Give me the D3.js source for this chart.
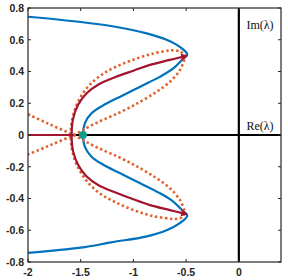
<!DOCTYPE html>
<html><head><meta charset="utf-8">
<script src="https://cdn.jsdelivr.net/npm/d3@7"></script>
<style>body{margin:0;background:#fff}svg{display:block}</style>
</head><body>
<svg id="c" width="288" height="280"></svg>
<script>
const xTicks = [-2, -1.5, -1, -0.5, 0];
const xTickLabels = ["-2", "-1.5", "-1", "-0.5", "0"];
const yTicks = [0.8, 0.6, 0.4, 0.2, 0, -0.2, -0.4, -0.6, -0.8];
const yTickLabels = ["0.8", "0.6", "0.4", "0.2", "0", "-0.2", "-0.4", "-0.6", "-0.8"];

// blue locus (Re, Im), Im decreasing along the path
const blueCurve = [[-2,0.745],[-1.5,0.712],[-1.2,0.685],[-0.883,0.642],[-0.686,0.6],[-0.56,0.555],[-0.49,0.508],
  [-0.543,0.471],[-0.622,0.419],[-0.75,0.366],[-0.94,0.303],[-1.13,0.24],[-1.289,0.186],[-1.4,0.135],[-1.462,0.072],[-1.478,0],
  [-1.462,-0.072],[-1.4,-0.135],[-1.289,-0.186],[-1.13,-0.24],[-0.94,-0.303],[-0.75,-0.366],[-0.622,-0.419],[-0.543,-0.471],[-0.49,-0.508],
  [-0.56,-0.555],[-0.686,-0.6],[-0.883,-0.64],[-1.2,-0.675],[-1.5,-0.71],[-2,-0.743]];
// red locus
const redReal = [[-2,0],[-1.586,0]];
const redBranch = [[-0.508,-0.497],[-0.654,-0.473],[-0.85,-0.44],[-1.0,-0.405],[-1.17,-0.362],[-1.327,-0.318],[-1.446,-0.26],[-1.525,-0.188],[-1.573,-0.1],[-1.586,0],
  [-1.573,0.1],[-1.525,0.19],[-1.446,0.262],[-1.327,0.32],[-1.17,0.365],[-1.0,0.405],[-0.85,0.44],[-0.654,0.473],[-0.508,0.497]];
// orange dotted locus, in five pieces
const dottedA = [[-2,0.131],[-1.81,0.072],[-1.568,0],[-1.365,-0.072],[-1.13,-0.142],[-0.94,-0.208],[-0.781,-0.272],[-0.654,-0.335],[-0.559,-0.409],[-0.511,-0.483]];
const dottedB = [[-0.511,-0.483],[-0.545,-0.52],[-0.62,-0.53]];
const dottedC = [[-0.62,-0.53],[-0.819,-0.51],[-1.01,-0.47],[-1.181,-0.42],[-1.31,-0.372],[-1.43,-0.3],[-1.525,-0.205],[-1.58,-0.1],[-1.595,0],
  [-1.58,0.1],[-1.525,0.21],[-1.43,0.305],[-1.31,0.375],[-1.181,0.425],[-1.01,0.472],[-0.819,0.512],[-0.654,0.534]];
const dottedD = [[-0.654,0.534],[-0.56,0.527],[-0.505,0.497]];
const dottedE = [[-0.505,0.497],[-0.559,0.409],[-0.654,0.335],[-0.781,0.272],[-0.94,0.208],[-1.13,0.142],[-1.365,0.072],[-1.568,0],[-1.81,-0.07],[-2,-0.122]];
const tealPoint = [-1.478, 0];
const redEnds = [[[-0.654,0.473],[-0.508,0.497]],[[-0.654,-0.473],[-0.508,-0.497]]];

const svg = d3.select("#c");
const x = d3.scaleLinear().domain([-2, 0.4]).range([28, 281]);
const y = d3.scaleLinear().domain([-0.8, 0.8]).range([262, 8]);
const L = [28, 281, 8, 262];

const mkLine = c => d3.line().x(d => x(d[0])).y(d => y(d[1])).curve(c);
const lineY = mkLine(d3.curveMonotoneY);
const lineC = mkLine(d3.curveCatmullRom.alpha(0.5));
const straight = mkLine(d3.curveLinear);

const clip = svg.append("clipPath").attr("id","clp").append("rect")
  .attr("x", L[0]).attr("y", L[2]).attr("width", L[1]-L[0]).attr("height", L[3]-L[2]);
const g = svg.append("g").attr("clip-path","url(#clp)");

// real and imaginary axis lines
g.append("line").attr("x1", x(-2)).attr("x2", x(0.4)).attr("y1", y(0)).attr("y2", y(0))
  .attr("stroke","#000").attr("stroke-width",2.2);
g.append("line").attr("x1", x(0)).attr("x2", x(0)).attr("y1", y(-0.8)).attr("y2", y(0.8))
  .attr("stroke","#000").attr("stroke-width",2.2);

g.append("path").attr("d", lineC(blueCurve)).attr("fill","none").attr("stroke","#0072BD").attr("stroke-width",2.2);

const join = parts => parts.map((p, i) => i === 0 ? p : p.replace(/^M/, "L")).join("");
const dottedPath = join([lineC(dottedA), lineC(dottedB), lineC(dottedC), lineC(dottedD), lineC(dottedE)]);
g.append("path").attr("d", dottedPath).attr("fill","none").attr("stroke","#E0622A")
  .attr("stroke-width",2.6).attr("stroke-dasharray","2.4 2.6");
g.append("path").attr("d", straight(redReal)).attr("fill","none").attr("stroke","#A2142F").attr("stroke-width",2.2);
g.append("path").attr("d", lineC(redBranch)).attr("fill","none").attr("stroke","#A2142F").attr("stroke-width",2.2);

// end markers (arrow heads)
redEnds.forEach(seg => {
  const x0 = x(seg[0][0]), y0 = y(seg[0][1]), x1 = x(seg[1][0]), y1 = y(seg[1][1]);
  const a = Math.atan2(y1 - y0, x1 - x0) * 180 / Math.PI;
  g.append("path").attr("d","M3,0 L-4,-3.5 L-4,3.5 Z").attr("fill","#A2142F")
    .attr("transform", `translate(${x1},${y1}) rotate(${a})`);
});

g.append("circle").attr("cx", x(tealPoint[0])).attr("cy", y(tealPoint[1])).attr("r",4)
  .attr("fill","#17998A");

// frame
svg.append("rect").attr("x", L[0]).attr("y", L[2]).attr("width", L[1]-L[0]).attr("height", L[3]-L[2])
  .attr("fill","none").attr("stroke","#262626").attr("stroke-width",1.2);

// ticks (inward, all four sides)
const tk = 3;
xTicks.forEach((t, i) => {
  svg.append("line").attr("x1", x(t)).attr("x2", x(t)).attr("y1", L[3]).attr("y2", L[3]-tk).attr("stroke","#262626");
  svg.append("line").attr("x1", x(t)).attr("x2", x(t)).attr("y1", L[2]).attr("y2", L[2]+tk).attr("stroke","#262626");
  svg.append("text").attr("x", x(t)).attr("y", 276).attr("text-anchor","middle")
    .attr("font-family","Liberation Sans, Arial, sans-serif").attr("font-weight","bold").attr("font-size","10.5px")
    .attr("fill","#262626").text(xTickLabels[i]);
});
yTicks.forEach((t, i) => {
  svg.append("line").attr("x1", L[0]).attr("x2", L[0]+tk).attr("y1", y(t)).attr("y2", y(t)).attr("stroke","#262626");
  svg.append("line").attr("x1", L[1]).attr("x2", L[1]-tk).attr("y1", y(t)).attr("y2", y(t)).attr("stroke","#262626");
  svg.append("text").attr("x", 24).attr("y", y(t)).attr("dy","0.36em").attr("text-anchor","end")
    .attr("font-family","Liberation Sans, Arial, sans-serif").attr("font-weight","bold").attr("font-size","10.5px")
    .attr("fill","#262626").text(yTickLabels[i]);
});

// axis labels
svg.append("text").attr("x", 260).attr("y", 29).attr("text-anchor","middle")
  .attr("font-family","Liberation Serif, Times New Roman, serif").attr("font-size","12px").attr("fill","#111")
  .text("Im(λ)");
svg.append("text").attr("x", 260).attr("y", 130).attr("text-anchor","middle")
  .attr("font-family","Liberation Serif, Times New Roman, serif").attr("font-size","12px").attr("fill","#111")
  .text("Re(λ)");
</script>
</body></html>
